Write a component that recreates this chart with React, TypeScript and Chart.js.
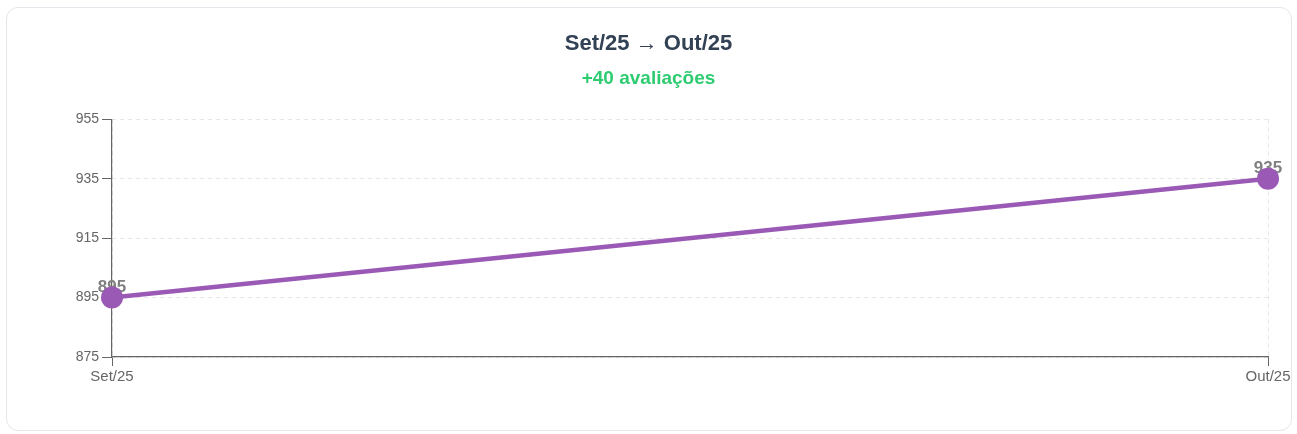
import React, { useEffect, useRef } from "react";
import { Chart, registerables } from "chart.js";

Chart.register(...registerables);

const categories = ["Set/25", "Out/25"];
const reviewCounts = [895, 935];
const yTicks = { min: 875, max: 955, step: 20 };
const titleText = "Set/25 → Out/25";
const subtitleText = "+40 avaliações";

const FONT = "'Liberation Sans', Arial, Helvetica, sans-serif";
const PURPLE = "#9b59b6";

const valueLabelPlugin = {
  id: "valueLabels",
  beforeDatasetsDraw(chart: any) {
    const ctx = chart.ctx;
    const meta = chart.getDatasetMeta(0);
    const data = chart.data.datasets[0].data as number[];
    ctx.save();
    ctx.font = `bold 17px ${FONT}`;
    ctx.fillStyle = "#808080";
    ctx.textAlign = "center";
    ctx.textBaseline = "alphabetic";
    meta.data.forEach((pt: any, i: number) => {
      ctx.fillText(String(data[i]), pt.x, pt.y - 6);
    });
    ctx.restore();
  },
};

export default function App() {
  const canvasRef = useRef<HTMLCanvasElement>(null);

  useEffect(() => {
    document.body.style.margin = "0";
    const canvas = canvasRef.current;
    if (!canvas) return;
    const chart = new Chart(canvas, {
      type: "line",
      data: {
        labels: categories,
        datasets: [
          {
            data: reviewCounts,
            borderColor: PURPLE,
            backgroundColor: PURPLE,
            borderWidth: 4.5,
            pointRadius: 11,
            pointBackgroundColor: PURPLE,
            pointBorderColor: PURPLE,
            pointBorderWidth: 0,
            tension: 0,
            clip: false as any,
          },
        ],
      },
      plugins: [valueLabelPlugin],
      options: {
        animation: false,
        responsive: false,
        maintainAspectRatio: false,
        layout: { padding: { left: 29, right: 29, top: 0, bottom: 46 } },
        plugins: {
          legend: { display: false },
          tooltip: { enabled: false },
          title: {
            display: true,
            text: titleText,
            color: "#334155",
            font: { family: FONT, size: 22, weight: "bold" },
            padding: { top: 31, bottom: 0 },
          },
          subtitle: {
            display: true,
            text: subtitleText,
            color: "#2ecc71",
            font: { family: FONT, size: 19, weight: "bold" },
            padding: { top: 10, bottom: 29 },
          },
        },
        scales: {
          x: {
            offset: false,
            grid: {
              color: "#e6e6e6",
              tickColor: "#666",
              drawTicks: true,
              tickLength: 9,
            } as any,
            border: { color: "#666", width: 1.2, dash: [4, 4] },
            ticks: { color: "#666", font: { family: FONT, size: 15 }, padding: 2, maxRotation: 0 },
          },
          y: {
            min: yTicks.min,
            max: yTicks.max,
            afterFit(scale: any) {
              scale.width = 83;
            },
            grid: {
              color: "#e6e6e6",
              tickColor: "#666",
              tickLength: 10,
            } as any,
            border: { color: "#666", width: 1.2, dash: [4, 4] },
            ticks: {
              stepSize: yTicks.step,
              color: "#666",
              font: { family: FONT, size: 14 },
              padding: 3,
            },
          },
        },
      },
    });
    return () => chart.destroy();
  }, []);

  return (
    <div style={{ position: "relative", width: 1297, height: 434, background: "#fff" }}>
      <div
        style={{
          position: "absolute",
          left: 6,
          top: 7,
          width: 1286,
          height: 424,
          boxSizing: "border-box",
          border: "1px solid #e3e6ea",
          borderRadius: 12,
          background: "#fff",
        }}
      />
      <canvas
        ref={canvasRef}
        width={1297}
        height={434}
        style={{ position: "absolute", left: 0, top: 0, width: 1297, height: 434 }}
      />
    </div>
  );
}
